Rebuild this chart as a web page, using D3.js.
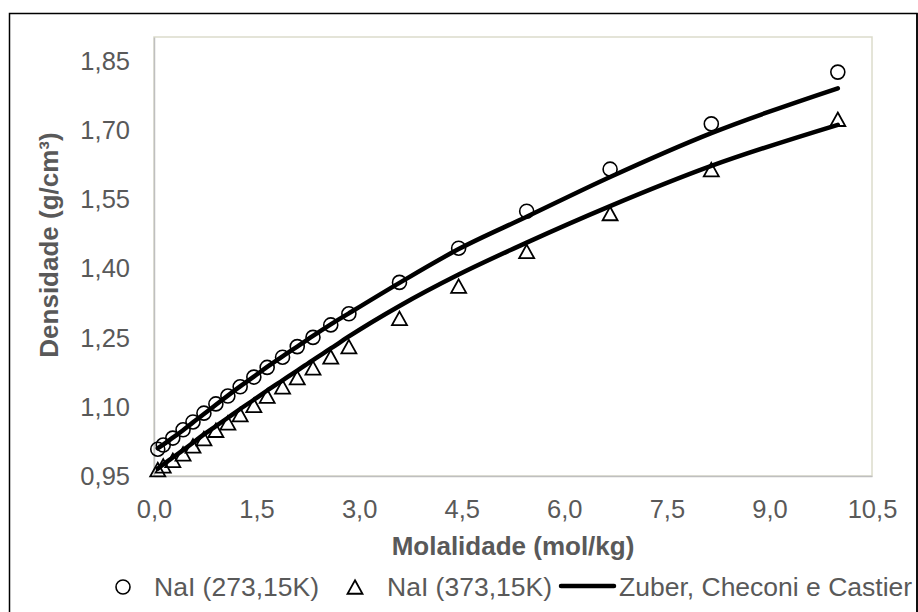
<!DOCTYPE html>
<html>
<head>
<meta charset="utf-8">
<script src="https://cdn.jsdelivr.net/npm/d3@7"></script>
<style>
  html, body { margin: 0; padding: 0; background: #fff; }
  svg { display: block; font-family: "Liberation Sans", Arial, sans-serif; }
</style>
</head>
<body>
<svg id="chart" width="918" height="612"></svg>
<script>
// Molality of each measured NaI solution (mol/kg)
const molality = [0.055, 0.135, 0.275, 0.425, 0.57, 0.73, 0.905, 1.08, 1.26, 1.46, 1.655,
                  1.88, 2.095, 2.325, 2.585, 2.85, 3.59, 4.455, 5.45, 6.67, 8.15, 10.0];

// Experimental densities (g/cm³)
const dens273 = [1.008, 1.017, 1.032, 1.050, 1.067, 1.086, 1.106, 1.123, 1.143, 1.164, 1.185,
                 1.207, 1.230, 1.250, 1.277, 1.301, 1.369, 1.443, 1.523, 1.614, 1.712, 1.824];
const dens373 = [0.964, 0.972, 0.984, 0.998, 1.015, 1.031, 1.049, 1.065, 1.083, 1.103, 1.123,
                 1.143, 1.163, 1.184, 1.208, 1.230, 1.291, 1.361, 1.436, 1.518, 1.613, 1.722];

// Model predictions (Zuber, Checoni e Castier)
const model273 = [1.010, 1.018, 1.033, 1.049, 1.066, 1.084, 1.104, 1.124, 1.144, 1.165, 1.186,
                  1.209, 1.230, 1.253, 1.278, 1.302, 1.368, 1.441, 1.511, 1.597, 1.692, 1.789];
const model373 = [0.966, 0.975, 0.990, 1.006, 1.022, 1.040, 1.058, 1.076, 1.095, 1.115, 1.135,
                  1.157, 1.178, 1.201, 1.226, 1.252, 1.318, 1.386, 1.455, 1.534, 1.621, 1.710];

const xTicks = [0, 1.5, 3.0, 4.5, 6.0, 7.5, 9.0, 10.5];
const yTicks = [0.95, 1.10, 1.25, 1.40, 1.55, 1.70, 1.85];

const seriesNames = ["NaI (273,15K)", "NaI (373,15K)", "Zuber, Checoni e Castier"];
const xTitle = "Molalidade (mol/kg)";
const yTitle = "Densidade (g/cm³)";

const svg = d3.select("#chart");
const plot = { left: 154, right: 872, top: 37, bottom: 476 };

const x = d3.scaleLinear().domain([0, 10.5]).range([plot.left, plot.right]);
const y = d3.scaleLinear().domain([0.95, 1.90]).range([plot.bottom, plot.top]);

const fmt = (d, digits) => d.toFixed(digits).replace(".", ",");
const tickColor = "#595959";

// Outer chart frame
svg.append("rect")
  .attr("x", 9.5).attr("y", 13.5)
  .attr("width", 907.5).attr("height", 620)
  .attr("fill", "#fff").attr("stroke", "#000").attr("stroke-width", 1.5);

// Plot area frame: light top/right, grey axis lines left/bottom
svg.append("rect")
  .attr("x", plot.left).attr("y", plot.top)
  .attr("width", plot.right - plot.left).attr("height", plot.bottom - plot.top)
  .attr("fill", "none").attr("stroke", "#dcdccb").attr("stroke-width", 1.5);

// Axes
const xAxis = svg.append("g")
  .attr("transform", `translate(0,${plot.bottom})`)
  .call(d3.axisBottom(x).tickValues(xTicks).tickSize(0).tickPadding(24)
    .tickFormat(d => fmt(d, 1)));
const yAxis = svg.append("g")
  .attr("transform", `translate(${plot.left},0)`)
  .call(d3.axisLeft(y).tickValues(yTicks).tickSize(0).tickPadding(24)
    .tickFormat(d => fmt(d, 2)));

[xAxis, yAxis].forEach(g => {
  g.select(".domain").attr("stroke", "#bfbfbf").attr("stroke-width", 1.5);
  g.selectAll("text")
    .attr("fill", tickColor)
    .attr("font-size", 25.5)
    .attr("font-family", "Liberation Sans, Arial, sans-serif");
});
xAxis.selectAll("text").attr("dy", "0.72em");
yAxis.selectAll("text").attr("dy", "0.35em");

// Axis titles
svg.append("text")
  .attr("x", (plot.left + plot.right) / 2).attr("y", 555)
  .attr("text-anchor", "middle")
  .attr("font-size", 26).attr("font-weight", "bold").attr("fill", tickColor)
  .text(xTitle);

svg.append("text")
  .attr("transform", "translate(58,245) rotate(-90)")
  .attr("text-anchor", "middle")
  .attr("font-size", 26).attr("font-weight", "bold").attr("fill", tickColor)
  .text(yTitle);

// Marker shapes
const circleSym = d3.symbol().type(d3.symbolCircle).size(Math.PI * 7 * 7);
const triPath = (cx, cy) => {
  const w = 7.5, h = 13.5;
  return `M${cx},${cy - h / 2}L${cx + w},${cy + h / 2}L${cx - w},${cy + h / 2}Z`;
};

const data273 = molality.map((m, i) => ({ m, d: dens273[i] }));
const data373 = molality.map((m, i) => ({ m, d: dens373[i] }));

// Experimental points
svg.append("g").selectAll("path")
  .data(data273).join("path")
  .attr("d", circleSym)
  .attr("transform", p => `translate(${x(p.m)},${y(p.d)})`)
  .attr("fill", "none").attr("stroke", "#000").attr("stroke-width", 1.6);

svg.append("g").selectAll("path")
  .data(data373).join("path")
  .attr("d", p => triPath(x(p.m), y(p.d)))
  .attr("fill", "none").attr("stroke", "#000").attr("stroke-width", 1.8)
  .attr("stroke-linejoin", "miter");

// Model curves
const line = d3.line().x(p => x(p.m)).y(p => y(p.d)).curve(d3.curveMonotoneX);
[model273, model373].forEach(vals => {
  svg.append("path")
    .datum(molality.map((m, i) => ({ m, d: vals[i] })))
    .attr("d", line)
    .attr("fill", "none").attr("stroke", "#000")
    .attr("stroke-width", 4.5).attr("stroke-linecap", "round").attr("stroke-linejoin", "round");
});

// Legend
const legY = 587;
const leg = svg.append("g").attr("font-size", 26.5).attr("fill", tickColor);
leg.append("path").attr("d", circleSym)
  .attr("transform", `translate(123,${legY})`)
  .attr("fill", "none").attr("stroke", "#000").attr("stroke-width", 1.6);
leg.append("text").attr("x", 154).attr("y", legY + 9).text(seriesNames[0]);
leg.append("path").attr("d", triPath(355, legY))
  .attr("fill", "none").attr("stroke", "#000").attr("stroke-width", 1.8);
leg.append("text").attr("x", 387).attr("y", legY + 9).text(seriesNames[1]);
leg.append("line")
  .attr("x1", 561).attr("x2", 614).attr("y1", legY - 1).attr("y2", legY - 1)
  .attr("stroke", "#000").attr("stroke-width", 4.5).attr("stroke-linecap", "round");
leg.append("text").attr("x", 619).attr("y", legY + 9).text(seriesNames[2]);

// Right edge of the frame sits above the overflowing legend text
svg.append("line")
  .attr("x1", 917).attr("x2", 917).attr("y1", 13).attr("y2", 612)
  .attr("stroke", "#000").attr("stroke-width", 1.5);
</script>
</body>
</html>
